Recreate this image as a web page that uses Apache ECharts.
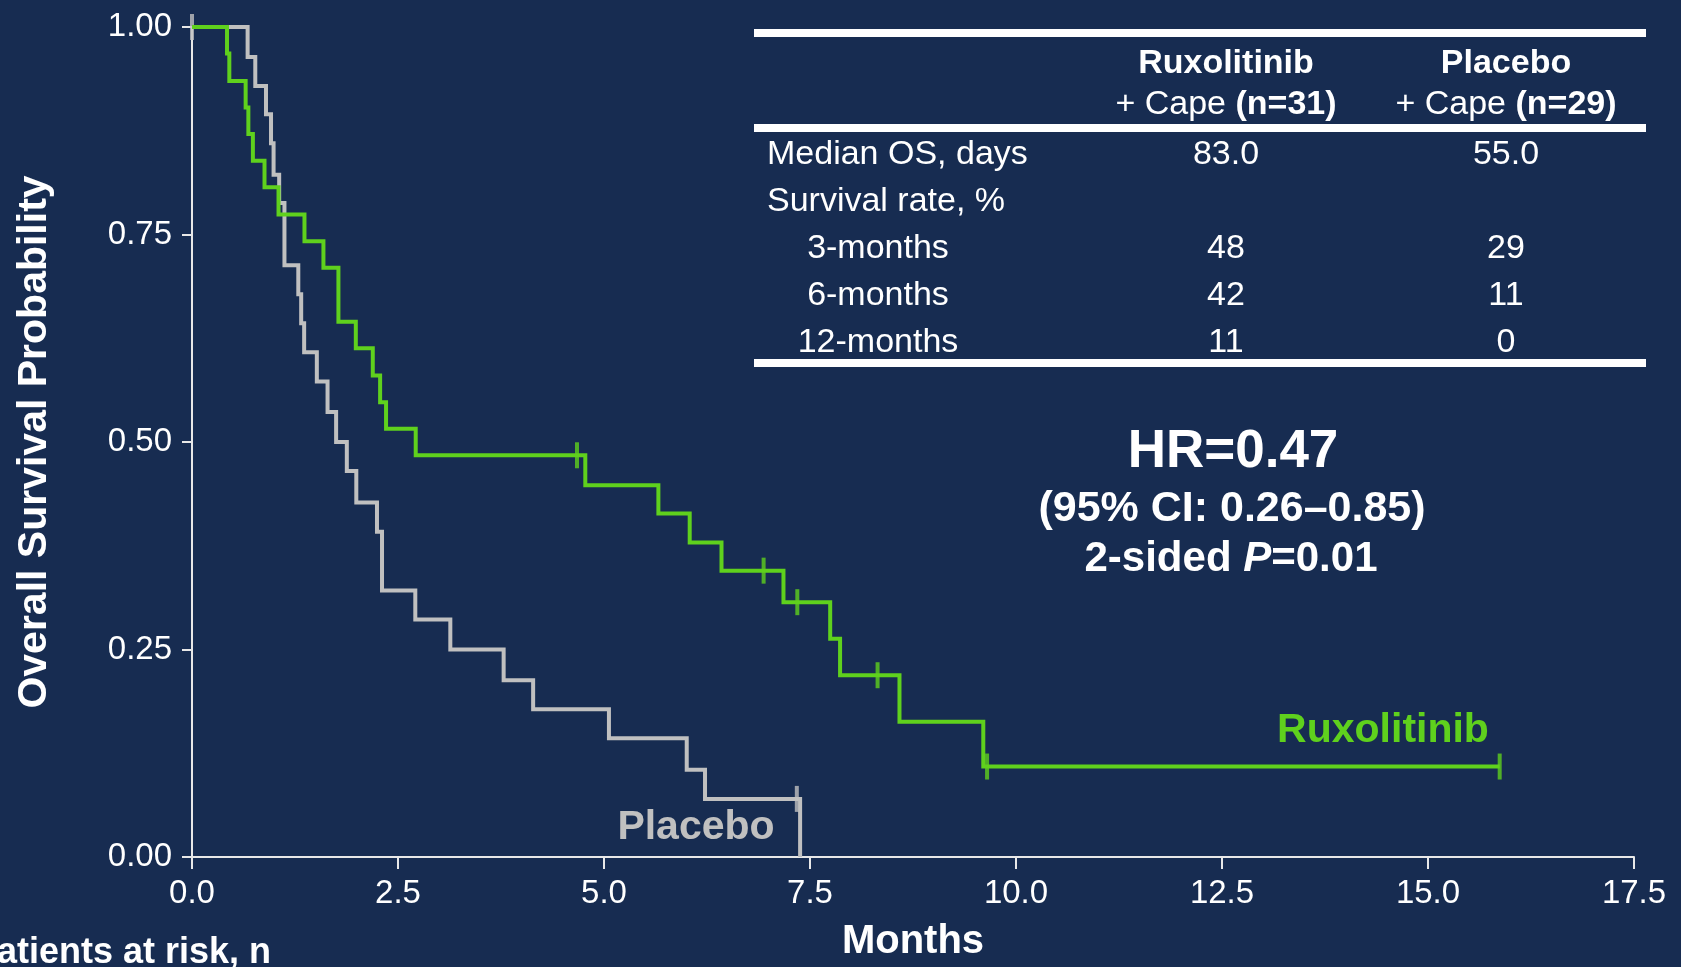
<!DOCTYPE html>
<html>
<head>
<meta charset="utf-8">
<title>Overall survival</title>
<script src="https://cdn.jsdelivr.net/npm/echarts@6/dist/echarts.min.js"></script>
<style>
  html, body { margin: 0; padding: 0; background: #172c51; }
  #chart { width: 1681px; height: 967px; }
</style>
</head>
<body>
<div id="chart"></div>
<script>
// Kaplan–Meier steps: [month of event, survival after the event]
const ruxSteps = [
  [0, 1.000], [0.425, 0.968], [0.453, 0.935], [0.651, 0.903], [0.684, 0.871],
  [0.739, 0.839], [0.880, 0.807], [1.050, 0.774], [1.365, 0.742], [1.595, 0.710],
  [1.777, 0.645], [1.988, 0.613], [2.194, 0.580], [2.283, 0.548], [2.355, 0.516],
  [2.715, 0.484], [4.773, 0.448], [5.660, 0.414], [6.040, 0.379], [6.426, 0.345],
  [7.178, 0.307], [7.745, 0.263], [7.865, 0.219], [8.586, 0.163], [9.603, 0.109],
  [15.87, 0.109]
];
const ruxCensored = [
  [4.672, 0.484], [6.937, 0.345], [7.346, 0.307], [8.320, 0.219], [9.649, 0.109], [15.87, 0.109]
];
const placeboSteps = [
  [0, 1.000], [0.675, 0.964], [0.768, 0.929], [0.898, 0.895], [0.959, 0.860],
  [0.990, 0.822], [1.058, 0.788], [1.122, 0.713], [1.290, 0.678], [1.325, 0.643],
  [1.361, 0.608], [1.515, 0.573], [1.645, 0.536], [1.749, 0.500], [1.879, 0.465],
  [1.994, 0.427], [2.245, 0.392], [2.306, 0.321], [2.710, 0.286], [3.135, 0.250],
  [3.782, 0.213], [4.140, 0.178], [5.060, 0.143], [6.004, 0.105], [6.226, 0.070],
  [7.380, 0.000]
];
const placeboCensored = [[0, 1.000], [7.340, 0.070]];

const xTicks = { min: 0, max: 17.5, step: 2.5 };
const yTicks = { min: 0, max: 1, step: 0.25 };

// Summary table
const tableCols = ['Ruxolitinib', 'Placebo'];
const tableN = [31, 29];
const medianOS = ['83.0', '55.0'];
const rateRows = ['3-months', '6-months', '12-months'];
const ruxRates = ['48', '42', '11'];
const placeboRates = ['29', '11', '0'];
const statLines = ['HR=0.47', '(95% CI: 0.26–0.85)', '2-sided ', 'P', '=0.01'];

const GREEN = '#5fd11d';
const GREY = '#c0c0c0';
const WHITE = '#ffffff';
const FONT = '"Liberation Sans", Arial, Helvetica, sans-serif';

const chart = echarts.init(document.getElementById('chart'), null, { renderer: 'canvas' });

function txt(text, x, y, size, opts) {
  opts = opts || {};
  return {
    type: 'text', silent: true, z: 10,
    style: Object.assign({
      text: text, x: x, y: y,
      fill: opts.fill || WHITE,
      font: (opts.bold ? 'bold ' : '') + (opts.italic ? 'italic ' : '') + size + 'px ' + FONT,
      align: opts.align || 'center', verticalAlign: 'middle',
      textAlign: opts.align || 'center', textVerticalAlign: 'middle'
    }, opts.rich ? { rich: opts.rich } : {})
  };
}
function rule(y) {
  return { type: 'rect', silent: true, shape: { x: 754, y: y - 4, width: 892, height: 8 }, style: { fill: WHITE } };
}

const TFS = 34;
const capeRich = {
  a: { fill: WHITE, font: TFS + 'px ' + FONT },
  b: { fill: WHITE, font: 'bold ' + TFS + 'px ' + FONT }
};
const graphics = [
  rule(33), rule(128), rule(363),
  txt(tableCols[0], 1226, 64, TFS, { bold: true }),
  txt(tableCols[1], 1506, 64, TFS, { bold: true }),
  txt('{a|+ Cape }{b|(n=' + tableN[0] + ')}', 1226, 105, TFS, { rich: capeRich }),
  txt('{a|+ Cape }{b|(n=' + tableN[1] + ')}', 1506, 105, TFS, { rich: capeRich }),
  txt('Median OS, days', 767, 155, TFS, { align: 'left' }),
  txt(medianOS[0], 1226, 155, TFS),
  txt(medianOS[1], 1506, 155, TFS),
  txt('Survival rate, %', 767, 202, TFS, { align: 'left' })
];
rateRows.forEach(function (r, i) {
  const y = 249 + i * 47;
  graphics.push(txt(r, 878, y, TFS));
  graphics.push(txt(ruxRates[i], 1226, y, TFS));
  graphics.push(txt(placeboRates[i], 1506, y, TFS));
});
graphics.push(txt(statLines[0], 1233, 452, 53, { bold: true }));
graphics.push(txt(statLines[1], 1232, 509, 43, { bold: true }));
graphics.push(txt('{a|' + statLines[2] + '}{b|' + statLines[3] + '}{a|' + statLines[4] + '}', 1231, 559, 42, {
  bold: true,
  rich: { a: { fill: WHITE, font: 'bold 42px ' + FONT }, b: { fill: WHITE, font: 'italic bold 42px ' + FONT } } }));
graphics.push(txt('Ruxolitinib', 1383, 731, 41, { bold: true, fill: GREEN }));
graphics.push(txt('Placebo', 696, 828, 41, { bold: true, fill: GREY }));
graphics.push(txt('Patients at risk, n', 271, 953, 36, { bold: true, align: 'right' }));

const axisCommon = {
  axisLine: { show: true, lineStyle: { color: '#e8e8e8', width: 2 } },
  axisTick: { show: true, inside: false, lineStyle: { color: '#e8e8e8', width: 2 } },
  splitLine: { show: false },
  axisLabel: { color: WHITE, fontSize: 33, fontFamily: FONT },
  nameTextStyle: { color: WHITE, fontSize: 41, fontWeight: 'bold', fontFamily: FONT }
};

chart.setOption({
  backgroundColor: '#172c51',
  animation: false,
  grid: { left: 192, right: 47, top: 27, bottom: 110, containLabel: false },
  xAxis: Object.assign({}, axisCommon, {
    type: 'value', min: xTicks.min, max: xTicks.max, interval: xTicks.step,
    name: 'Months', nameLocation: 'middle', nameGap: 65,
    nameTextStyle: Object.assign({}, axisCommon.nameTextStyle, { fontSize: 40 }),
    axisTick: Object.assign({}, axisCommon.axisTick, { length: 12 }),
    axisLabel: Object.assign({}, axisCommon.axisLabel, { margin: 20, formatter: v => v.toFixed(1) })
  }),
  yAxis: Object.assign({}, axisCommon, {
    type: 'value', min: yTicks.min, max: yTicks.max, interval: yTicks.step,
    name: 'Overall Survival Probability', nameLocation: 'middle', nameGap: 137, nameRotate: 90,
    axisTick: Object.assign({}, axisCommon.axisTick, { length: 10 }),
    axisLabel: Object.assign({}, axisCommon.axisLabel, { margin: 20, formatter: v => v.toFixed(2) })
  }),
  series: [
    {
      name: 'Placebo', type: 'line', step: 'end', data: placeboSteps,
      showSymbol: false, symbol: 'none', z: 2,
      lineStyle: { color: GREY, width: 4, cap: 'butt', join: 'miter' }
    },
    {
      name: 'Placebo censored', type: 'scatter', data: placeboCensored,
      symbol: 'rect', symbolSize: [4, 26], z: 2,
      itemStyle: { color: GREY }
    },
    {
      name: 'Ruxolitinib', type: 'line', step: 'end', data: ruxSteps,
      showSymbol: false, symbol: 'none', z: 3,
      lineStyle: { color: GREEN, width: 4, cap: 'butt', join: 'miter' }
    },
    {
      name: 'Ruxolitinib censored', type: 'scatter', data: ruxCensored,
      symbol: 'rect', symbolSize: [4, 26], z: 3,
      itemStyle: { color: GREEN }
    }
  ],
  graphic: { elements: graphics }
});
</script>
</body>
</html>
